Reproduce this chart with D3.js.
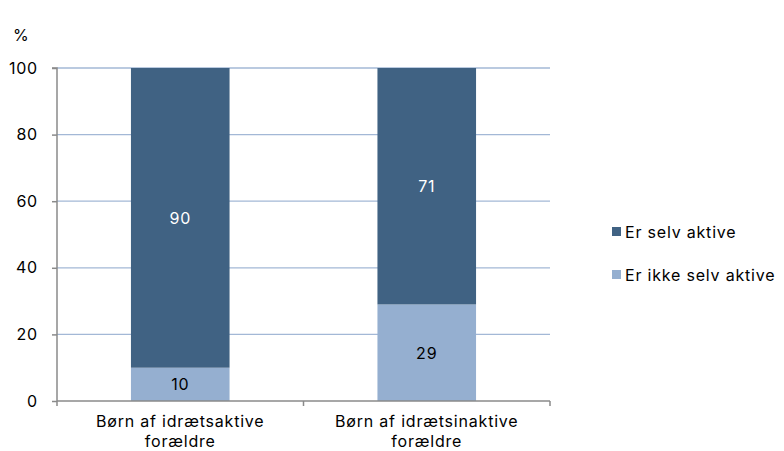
<!DOCTYPE html>
<html><head><meta charset="utf-8">
<script src="https://cdn.jsdelivr.net/npm/d3@7"></script>
<style>body{margin:0;background:#fff}svg{display:block}text{font-family:Inter,"Open Sans",sans-serif;font-weight:400;letter-spacing:0.8px}</style>
</head><body><svg id="c" width="784" height="451"></svg>
<script>
const categories = [["Børn af idrætsaktive","forældre"],["Børn af idrætsinaktive","forældre"]];
const seriesNames = ["Er ikke selv aktive","Er selv aktive"];
const notActive = [10, 29];
const active = [90, 71];
const yTicks = [0,20,40,60,80,100];
const colors = ["#95afd0","#406283"];
const labelColors = ["#000","#fff"];

const svg = d3.select("#c");
const x0=57, x1=550, yTop=68, yBot=401;
const x = d3.scaleBand().domain([0,1]).range([x0,x1]).paddingInner(0).paddingOuter(0);
const y = d3.scaleLinear().domain([0,100]).range([yBot,yTop]);
const bw = x.bandwidth()*0.4;

// gridlines
svg.append("g").selectAll("line").data(yTicks.filter(d=>d>0)).join("line")
  .attr("x1",x0).attr("x2",x1).attr("y1",d=>y(d)).attr("y2",d=>y(d))
  .attr("stroke","#a3b8d6").attr("stroke-width",1.3);

const data = categories.map((c,i)=>({i, "Er ikke selv aktive":notActive[i], "Er selv aktive":active[i]}));
const stack = d3.stack().keys(seriesNames)(data);
stack.forEach((s,k)=>{
  const g=svg.append("g");
  g.selectAll("rect").data(s).join("rect")
   .attr("x",d=>x(d.data.i)+(x.bandwidth()-bw)/2).attr("width",bw)
   .attr("y",d=>y(d[1])).attr("height",d=>y(d[0])-y(d[1]))
   .attr("fill",colors[k]);
  g.selectAll("text").data(s).join("text")
   .attr("x",d=>x(d.data.i)+x.bandwidth()/2).attr("y",d=>(y(d[0])+y(d[1]))/2+6)
   .attr("text-anchor","middle").attr("font-size",16).attr("fill",labelColors[k])
   .text(d=>d[1]-d[0]);
});

// y axis
const ya = svg.append("g").attr("transform",`translate(${x0},0)`)
  .call(d3.axisLeft(y).tickValues(yTicks).tickSize(5).tickPadding(14));
ya.select(".domain").attr("stroke","#8a8a8a").attr("stroke-width",1.5).attr("d",`M-5,${yTop}H0V${yBot}`);
ya.selectAll(".tick line").attr("stroke","#8a8a8a").attr("stroke-width",1.5);
ya.selectAll(".tick text").attr("font-size",16).attr("fill","#000").attr("font-family","Inter,'Open Sans',sans-serif");

// x axis
const xa = svg.append("g").attr("transform",`translate(0,${yBot})`);
xa.append("line").attr("x1",x0).attr("x2",x1).attr("stroke","#8a8a8a").attr("stroke-width",1.5);
xa.selectAll("line.t").data([0,1,2]).join("line").attr("class","t")
  .attr("x1",d=>x0+d*x.bandwidth()).attr("x2",d=>x0+d*x.bandwidth()).attr("y1",0).attr("y2",5)
  .attr("stroke","#8a8a8a").attr("stroke-width",1.5);
categories.forEach((c,i)=>{
  c.forEach((line,j)=>xa.append("text").attr("text-anchor","middle").attr("font-size",16).attr("fill","#000")
    .attr("x",x(i)+x.bandwidth()/2).attr("y",26+j*20).text(line));
});

svg.append("text").attr("x",13).attr("y",41).attr("font-size",16).text("%");

// legend
const legendItems = [seriesNames[1], seriesNames[0]];
const legendColors = [colors[1], colors[0]];
legendItems.forEach((n,i)=>{
  const ly = 232 + i*43;
  svg.append("rect").attr("x",612).attr("y",ly-5).attr("width",9).attr("height",9).attr("fill",legendColors[i]);
  svg.append("text").attr("x",625).attr("y",ly+6).attr("font-size",16).attr("fill","#000").text(n);
});
</script></body></html>
